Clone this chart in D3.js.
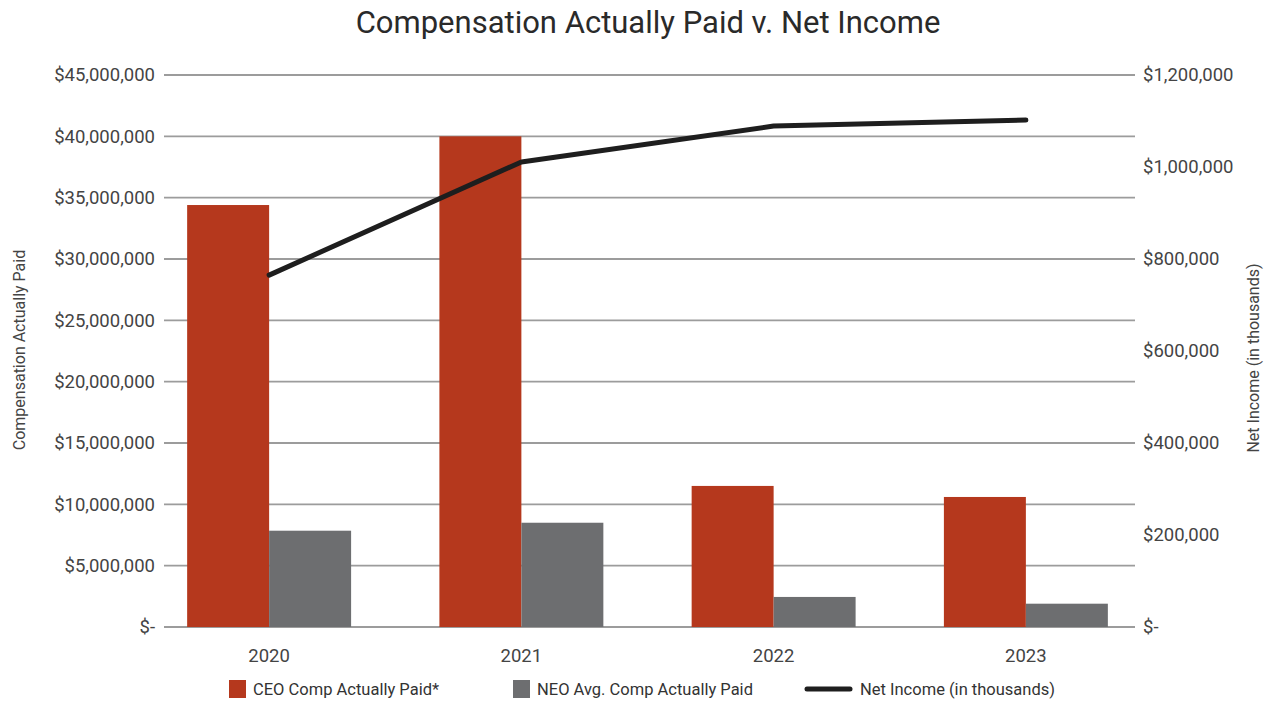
<!DOCTYPE html>
<html><head><meta charset="utf-8">
<script src="https://cdn.jsdelivr.net/npm/d3@7"></script>
<style>body{margin:0;background:#fff;} text{font-family:Roboto, "Liberation Sans", sans-serif;}</style>
</head><body><svg id="c" width="1277" height="704"></svg>
<script>
const years = ["2020","2021","2022","2023"];
const ceoComp = [34400000, 40000000, 11500000, 10600000];
const neoComp = [7850000, 8500000, 2450000, 1900000];
const netIncome = [765000, 1011000, 1089000, 1102000];
const leftTicks = [0,5e6,10e6,15e6,20e6,25e6,30e6,35e6,40e6,45e6];
const rightTicks = [0,200000,400000,600000,800000,1000000,1200000];
const seriesNames = ["CEO Comp Actually Paid*","NEO Avg. Comp Actually Paid","Net Income (in thousands)"];
const colors = {ceo:"#b5381d", neo:"#6d6e70", line:"#1e1e1e"};

const svg = d3.select("#c");
const plotTop = 75, plotBottom = 627, gx0 = 164, gx1 = 1135;
const yL = d3.scaleLinear().domain([0,45e6]).range([plotBottom, plotTop]);
const yR = d3.scaleLinear().domain([0,1200000]).range([plotBottom, plotTop]);
const x = d3.scaleBand().domain(years).range([143, 1152]).padding(0);
const bw = x.bandwidth();
const x1 = d3.scaleBand().domain(["ceo","neo"]).range([bw*0.175, bw*0.825]).padding(0);

svg.append("text").attr("x",648).attr("y",33).attr("text-anchor","middle")
  .attr("font-size",31).attr("fill","#2a2a2a").text("Compensation Actually Paid v. Net Income");

// gridlines
svg.append("g").selectAll("line").data(leftTicks).join("line")
  .attr("x1",gx0).attr("x2",gx1).attr("y1",d=>yL(d)).attr("y2",d=>yL(d))
  .attr("stroke","#9c9c9c").attr("stroke-width",1.8);

const fmtL = d => d===0 ? "$-" : "$" + d3.format(",")(d);
svg.append("g").selectAll("text").data(leftTicks).join("text")
  .attr("x",155).attr("y",d=>yL(d)).attr("dy","0.35em").attr("text-anchor","end")
  .attr("font-size",18.5).attr("fill","#444").text(fmtL);
svg.append("g").selectAll("text").data(rightTicks).join("text")
  .attr("x",1143).attr("y",d=>yR(d)).attr("dy","0.35em").attr("text-anchor","start")
  .attr("font-size",18.5).attr("fill","#444").text(fmtL);

// bars
const g = svg.append("g");
years.forEach((yr,i)=>{
  g.append("rect").attr("x",x(yr)+x1("ceo")).attr("width",x1.bandwidth())
    .attr("y",yL(ceoComp[i])).attr("height",plotBottom-yL(ceoComp[i])).attr("fill",colors.ceo);
  g.append("rect").attr("x",x(yr)+x1("neo")).attr("width",x1.bandwidth())
    .attr("y",yL(neoComp[i])).attr("height",plotBottom-yL(neoComp[i])).attr("fill",colors.neo);
});

// line
const line = d3.line().x((d,i)=>x(years[i])+bw/2).y(d=>yR(d));
svg.append("path").datum(netIncome).attr("d",line).attr("fill","none")
  .attr("stroke",colors.line).attr("stroke-width",5).attr("stroke-linecap","round").attr("stroke-linejoin","round");

// x labels
svg.append("g").selectAll("text").data(years).join("text")
  .attr("x",d=>x(d)+bw/2).attr("y",662).attr("text-anchor","middle")
  .attr("font-size",18.5).attr("fill","#444").text(d=>d);

// axis titles
svg.append("text").attr("transform","translate(25,350) rotate(-90)").attr("text-anchor","middle")
  .attr("font-size",16).attr("fill","#444").text("Compensation Actually Paid");
svg.append("text").attr("transform","translate(1259,358) rotate(-90)").attr("text-anchor","middle")
  .attr("font-size",16).attr("fill","#444").text("Net Income (in thousands)");

// legend
const lg = svg.append("g");
lg.append("rect").attr("x",229).attr("y",680).attr("width",17).attr("height",18).attr("fill",colors.ceo);
lg.append("text").attr("x",253).attr("y",689).attr("dy","0.35em").attr("font-size",16.5).attr("fill","#333").text(seriesNames[0]);
lg.append("rect").attr("x",513).attr("y",680).attr("width",17).attr("height",18).attr("fill",colors.neo);
lg.append("text").attr("x",537).attr("y",689).attr("dy","0.35em").attr("font-size",16.5).attr("fill","#333").text(seriesNames[1]);
lg.append("line").attr("x1",807).attr("x2",850).attr("y1",689).attr("y2",689).attr("stroke",colors.line).attr("stroke-width",5).attr("stroke-linecap","round");
lg.append("text").attr("x",860).attr("y",689).attr("dy","0.35em").attr("font-size",16.5).attr("fill","#333").text(seriesNames[2]);
</script></body></html>
